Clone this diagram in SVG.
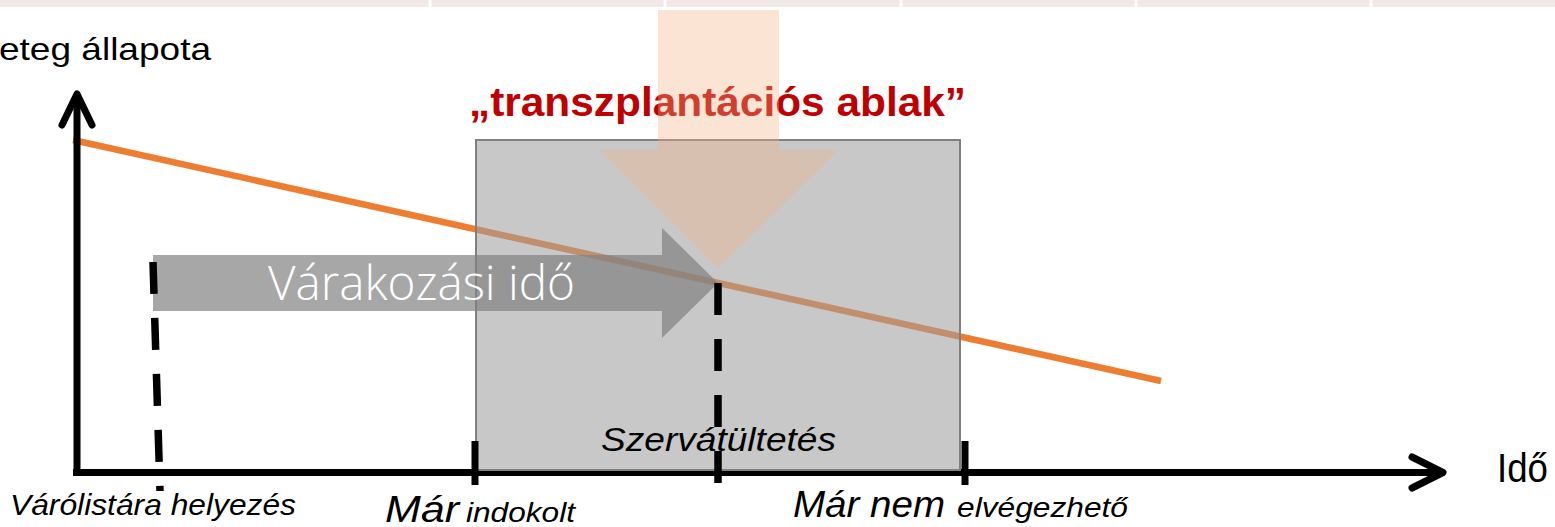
<svg xmlns="http://www.w3.org/2000/svg" width="1555" height="527" viewBox="0 0 1555 527">
  <style>
    .lbl { font-family: "Liberation Sans", Arial, sans-serif; fill: #000; }
    .it { font-style: italic; }
    .axis { stroke: #000; stroke-width: 7; fill: none; }
    .chev { stroke: #000; stroke-width: 7; fill: none; stroke-linecap: round; stroke-linejoin: round; }
    .dash { stroke: #000; stroke-width: 7.5; fill: none; stroke-dasharray: 32 24; }
    .tick { stroke: #000; stroke-width: 7; fill: none; }
  </style>
  <rect x="0" y="0" width="1555" height="527" fill="#ffffff"/>
  <g id="top-band">
    <rect x="0" y="0" width="1555" height="7" fill="#f2e8e8"/>
    <g stroke="#ffffff" stroke-width="3">
      <line x1="430" y1="0" x2="430" y2="8"/>
      <line x1="665" y1="0" x2="665" y2="8"/>
      <line x1="901" y1="0" x2="901" y2="8"/>
      <line x1="1136" y1="0" x2="1136" y2="8"/>
      <line x1="1371" y1="0" x2="1371" y2="8"/>
    </g>
  </g>
  <g id="title">
    <text x="469" y="116" font-family="'Liberation Sans', Arial, sans-serif" font-weight="bold" font-size="41" fill="#c00000" textLength="497" lengthAdjust="spacingAndGlyphs">„transzplantációs ablak”</text>
  </g>
  <g id="y-label">
    <text class="lbl" x="-1" y="60" font-size="32" textLength="212" lengthAdjust="spacingAndGlyphs">eteg állapota</text>
  </g>
  <g id="condition-line">
    <line x1="73" y1="140" x2="1161" y2="381" stroke="#ed7d31" stroke-width="6.5"/>
  </g>
  <g id="connectors">
    <line class="axis" x1="73" y1="472.5" x2="1440" y2="472.5"/>
    <polyline class="chev" points="1412,457 1443,472.5 1412,488"/>
  </g>
  <g id="window-box">
    <rect x="476" y="140" width="484" height="330" fill="#9d9d9d" fill-opacity="0.56" stroke="#808080" stroke-width="2"/>
  </g>
  <g id="waiting-arrow">
    <polygon points="153,255 662,255 662,228 718,283 662,338 662,311 153,311" fill="#7f7f7f" fill-opacity="0.69"/>
    <text x="268" y="300" font-family="'Open Sans', 'Noto Sans', sans-serif" font-weight="300" font-size="47" fill="#ffffff" textLength="307" lengthAdjust="spacingAndGlyphs">Várakozási idő</text>
  </g>
  <g id="window-arrow">
    <polygon points="658,10 779,10 779,150 839,150 718,268 599,150 658,150" fill="#f4b183" fill-opacity="0.35"/>
  </g>
  <g id="y-axis">
    <line class="axis" x1="77" y1="472.5" x2="77" y2="98"/>
    <polyline class="chev" points="62,125 77,94 92,125"/>
  </g>
  <g id="markers">
    <line class="dash" x1="153" y1="262" x2="160" y2="491"/>
    <line class="dash" x1="718" y1="283" x2="718" y2="485"/>
    <line class="tick" x1="475" y1="441" x2="475" y2="485"/>
    <line class="tick" x1="965" y1="441" x2="965" y2="485"/>
  </g>
  <g id="labels">
    <text class="lbl it" x="601" y="451" font-size="34" textLength="235" lengthAdjust="spacingAndGlyphs">Szervátültetés</text>
    <text class="lbl" x="1497" y="482" font-size="40" textLength="51" lengthAdjust="spacingAndGlyphs">Idő</text>
    <text class="lbl it" x="10" y="515" font-size="30" textLength="286" lengthAdjust="spacingAndGlyphs">Várólistára helyezés</text>
    <text class="lbl it" x="385" y="522" font-size="36" textLength="74" lengthAdjust="spacingAndGlyphs">Már</text>
    <text class="lbl it" x="466" y="522" font-size="28" textLength="109" lengthAdjust="spacingAndGlyphs">indokolt</text>
    <text class="lbl it" x="793" y="517" font-size="37" textLength="152" lengthAdjust="spacingAndGlyphs">Már nem</text>
    <text class="lbl it" x="957" y="517" font-size="28" textLength="171" lengthAdjust="spacingAndGlyphs">elvégezhető</text>
  </g>
</svg>
